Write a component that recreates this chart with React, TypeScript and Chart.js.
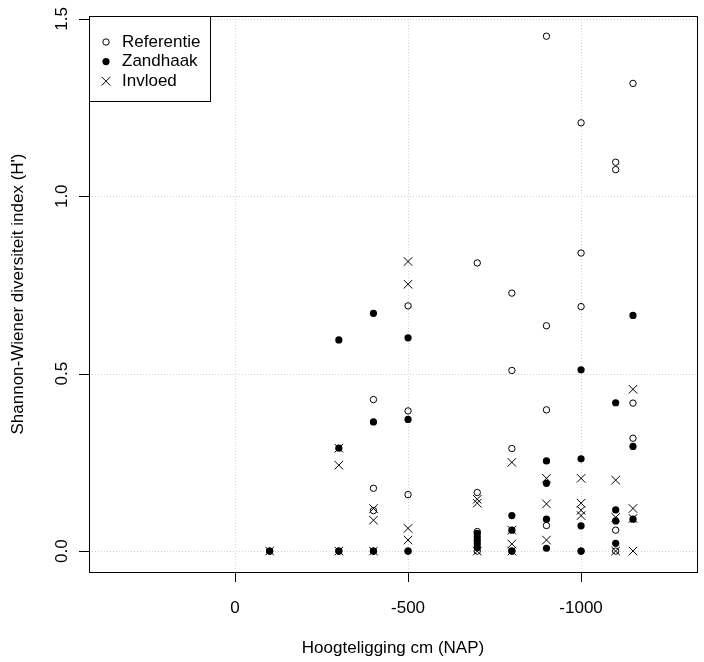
import React, { useEffect, useRef } from "react";
import { Chart, registerables } from "chart.js";

Chart.register(...registerables);

// ---- data ----
const X_TICKS = [0, -500, -1000];
const X_TICK_LABELS = ["0", "-500", "-1000"];
const Y_TICKS = [0, 0.5, 1.0, 1.5];
const Y_TICK_LABELS = ["0.0", "0.5", "1.0", "1.5"];

const X_TITLE = "Hoogteligging cm (NAP)";
const Y_TITLE = "Shannon-Wiener diversiteit index (H')";

const SERIES_NAMES = ["Referentie", "Zandhaak", "Invloed"];

const referentieX = [-100, -300, -400, -400, -400, -400, -500, -500, -500, -500, -700, -700, -700, -700, -800, -800, -800, -800, -900, -900, -900, -900, -1000, -1000, -1000, -1000, -1100, -1100, -1100, -1100, -1150, -1150, -1150];
const referentieY = [0, 0, 0.427, 0.177, 0.114, 0, 0.691, 0.395, 0.159, 0, 0.812, 0.165, 0.055, 0, 0.727, 0.509, 0.289, 0, 1.451, 0.635, 0.398, 0.072, 1.207, 0.84, 0.689, 0, 1.096, 1.075, 0.059, 0, 1.318, 0.417, 0.318];

const zandhaakX = [-100, -300, -300, -300, -400, -400, -400, -500, -500, -500, -700, -700, -700, -700, -700, -800, -800, -800, -900, -900, -900, -900, -1000, -1000, -1000, -1000, -1100, -1100, -1100, -1100, -1150, -1150, -1150];
const zandhaakY = [0, 0.595, 0.29, 0, 0.67, 0.364, 0, 0.601, 0.371, 0, 0.05, 0.04, 0.03, 0.02, 0.01, 0.1, 0.059, 0, 0.254, 0.191, 0.09, 0.008, 0.511, 0.26, 0.071, 0, 0.418, 0.116, 0.085, 0.022, 0.664, 0.295, 0.09];

const invloedX = [-100, -300, -300, -300, -400, -400, -400, -500, -500, -500, -500, -700, -700, -700, -800, -800, -800, -800, -900, -900, -900, -1000, -1000, -1000, -1000, -1100, -1100, -1100, -1150, -1150, -1150, -1150];
const invloedY = [0, 0.29, 0.242, 0, 0.12, 0.087, 0, 0.816, 0.752, 0.064, 0.031, 0.146, 0.135, 0, 0.25, 0.059, 0.02, 0, 0.205, 0.133, 0.031, 0.205, 0.135, 0.115, 0.1, 0.2, 0.095, 0, 0.456, 0.12, 0.092, 0];

const X_MIN = -1335;
const X_MAX = 422;
const Y_MIN = -0.059;
const Y_MAX = 1.508;

const FONT = '"Liberation Sans", Arial, Helvetica, sans-serif';
const FONT_SIZE = 17;

const zip = (xs: number[], ys: number[]) => xs.map((x, i) => ({ x, y: ys[i] }));

function drawSymbol(ctx: CanvasRenderingContext2D, kind: number, cx: number, cy: number) {
  ctx.save();
  ctx.strokeStyle = "#000";
  ctx.fillStyle = "#000";
  ctx.lineWidth = 1;
  ctx.setLineDash([]);
  if (kind === 0) {
    ctx.beginPath();
    ctx.arc(cx, cy, 3.2, 0, Math.PI * 2);
    ctx.stroke();
  } else if (kind === 1) {
    ctx.beginPath();
    ctx.arc(cx, cy, 3.6, 0, Math.PI * 2);
    ctx.fill();
  } else {
    const d = 4.3;
    ctx.beginPath();
    ctx.moveTo(cx - d, cy - d);
    ctx.lineTo(cx + d, cy + d);
    ctx.moveTo(cx - d, cy + d);
    ctx.lineTo(cx + d, cy - d);
    ctx.stroke();
  }
  ctx.restore();
}

const rAxesPlugin = {
  id: "rAxes",
  beforeDatasetsDraw(chart: any) {
    const { ctx, chartArea: a, scales } = chart;
    const xs = scales.x;
    const ys = scales.y;
    ctx.save();
    ctx.strokeStyle = "#d3d3d3";
    ctx.lineWidth = 1;
    ctx.setLineDash([1, 2]);
    for (const v of X_TICKS) {
      const px = Math.round(xs.getPixelForValue(v)) + 0.5;
      ctx.beginPath();
      ctx.moveTo(px, a.top);
      ctx.lineTo(px, a.bottom);
      ctx.stroke();
    }
    for (const v of Y_TICKS) {
      const py = Math.round(ys.getPixelForValue(v)) + 0.5;
      ctx.beginPath();
      ctx.moveTo(a.left, py);
      ctx.lineTo(a.right, py);
      ctx.stroke();
    }
    ctx.restore();
  },
  afterDraw(chart: any) {
    const { ctx, chartArea: a, scales } = chart;
    const xs = scales.x;
    const ys = scales.y;
    ctx.save();
    ctx.setLineDash([]);
    ctx.strokeStyle = "#000";
    ctx.lineWidth = 1;
    // box
    ctx.strokeRect(a.left + 0.5, a.top + 0.5, a.right - a.left, a.bottom - a.top);
    // ticks
    ctx.beginPath();
    for (const v of X_TICKS) {
      const px = Math.round(xs.getPixelForValue(v)) + 0.5;
      ctx.moveTo(px, a.bottom);
      ctx.lineTo(px, a.bottom + 10);
    }
    for (const v of Y_TICKS) {
      const py = Math.round(ys.getPixelForValue(v)) + 0.5;
      ctx.moveTo(a.left, py);
      ctx.lineTo(a.left - 10, py);
    }
    ctx.stroke();
    // tick labels
    ctx.fillStyle = "#000";
    ctx.font = `${FONT_SIZE}px ${FONT}`;
    ctx.textAlign = "center";
    ctx.textBaseline = "middle";
    X_TICKS.forEach((v, i) => {
      ctx.fillText(X_TICK_LABELS[i], xs.getPixelForValue(v), a.bottom + 36);
    });
    Y_TICKS.forEach((v, i) => {
      ctx.save();
      ctx.translate(a.left - 27, ys.getPixelForValue(v));
      ctx.rotate(-Math.PI / 2);
      ctx.fillText(Y_TICK_LABELS[i], 0, 0);
      ctx.restore();
    });
    // titles
    ctx.fillText(X_TITLE, (a.left + a.right) / 2, a.bottom + 76);
    ctx.save();
    ctx.translate(a.left - 71, (a.top + a.bottom) / 2);
    ctx.rotate(-Math.PI / 2);
    ctx.fillText(Y_TITLE, 0, 0);
    ctx.restore();

    // legend
    const lx = a.left, ly = a.top, lw = 121, lh = 85;
    ctx.fillStyle = "#fff";
    ctx.fillRect(lx + 0.5, ly + 0.5, lw, lh);
    ctx.strokeStyle = "#000";
    ctx.strokeRect(lx + 0.5, ly + 0.5, lw, lh);
    ctx.textAlign = "left";
    ctx.fillStyle = "#000";
    SERIES_NAMES.forEach((name, i) => {
      const ry = ly + 26 + i * 19.6;
      drawSymbol(ctx, i, lx + 17, ry);
      ctx.fillStyle = "#000";
      ctx.fillText(name, lx + 33, ry);
    });
    ctx.restore();
  },
};

export default function App() {
  const ref = useRef<HTMLCanvasElement | null>(null);
  useEffect(() => {
    document.body.style.margin = "0";
    const canvas = ref.current;
    if (!canvas) return;
    const chart = new Chart(canvas, {
      type: "scatter",
      data: {
        datasets: [
          {
            label: SERIES_NAMES[0],
            data: zip(referentieX, referentieY),
            pointStyle: "circle",
            pointRadius: 3.2,
            borderWidth: 1,
            borderColor: "#000",
            backgroundColor: "rgba(0,0,0,0)",
            order: 3,
          },
          {
            label: SERIES_NAMES[1],
            data: zip(zandhaakX, zandhaakY),
            pointStyle: "circle",
            pointRadius: 3.6,
            borderWidth: 0,
            borderColor: "#000",
            backgroundColor: "#000",
            order: 2,
          },
          {
            label: SERIES_NAMES[2],
            data: zip(invloedX, invloedY),
            pointStyle: "crossRot",
            pointRadius: 6,
            borderWidth: 1,
            borderColor: "#000",
            backgroundColor: "#000",
            order: 1,
          },
        ],
      },
      options: {
        responsive: false,
        animation: false,
        events: [],
        layout: { padding: { left: 89, right: 7, top: 16, bottom: 90 } },
        plugins: { legend: { display: false }, tooltip: { enabled: false }, title: { display: false } },
        scales: {
          x: {
            type: "linear",
            reverse: true,
            min: X_MIN,
            max: X_MAX,
            grid: { display: false, drawTicks: false },
            border: { display: false },
            ticks: { display: false },
            title: { display: false },
          },
          y: {
            type: "linear",
            min: Y_MIN,
            max: Y_MAX,
            grid: { display: false, drawTicks: false },
            border: { display: false },
            ticks: { display: false },
            title: { display: false },
          },
        },
      },
      plugins: [rAxesPlugin],
    });
    return () => chart.destroy();
  }, []);
  return (
    <div style={{ width: 704, height: 662 }}>
      <canvas ref={ref} width={704} height={662} style={{ display: "block", width: 704, height: 662 }} />
    </div>
  );
}
